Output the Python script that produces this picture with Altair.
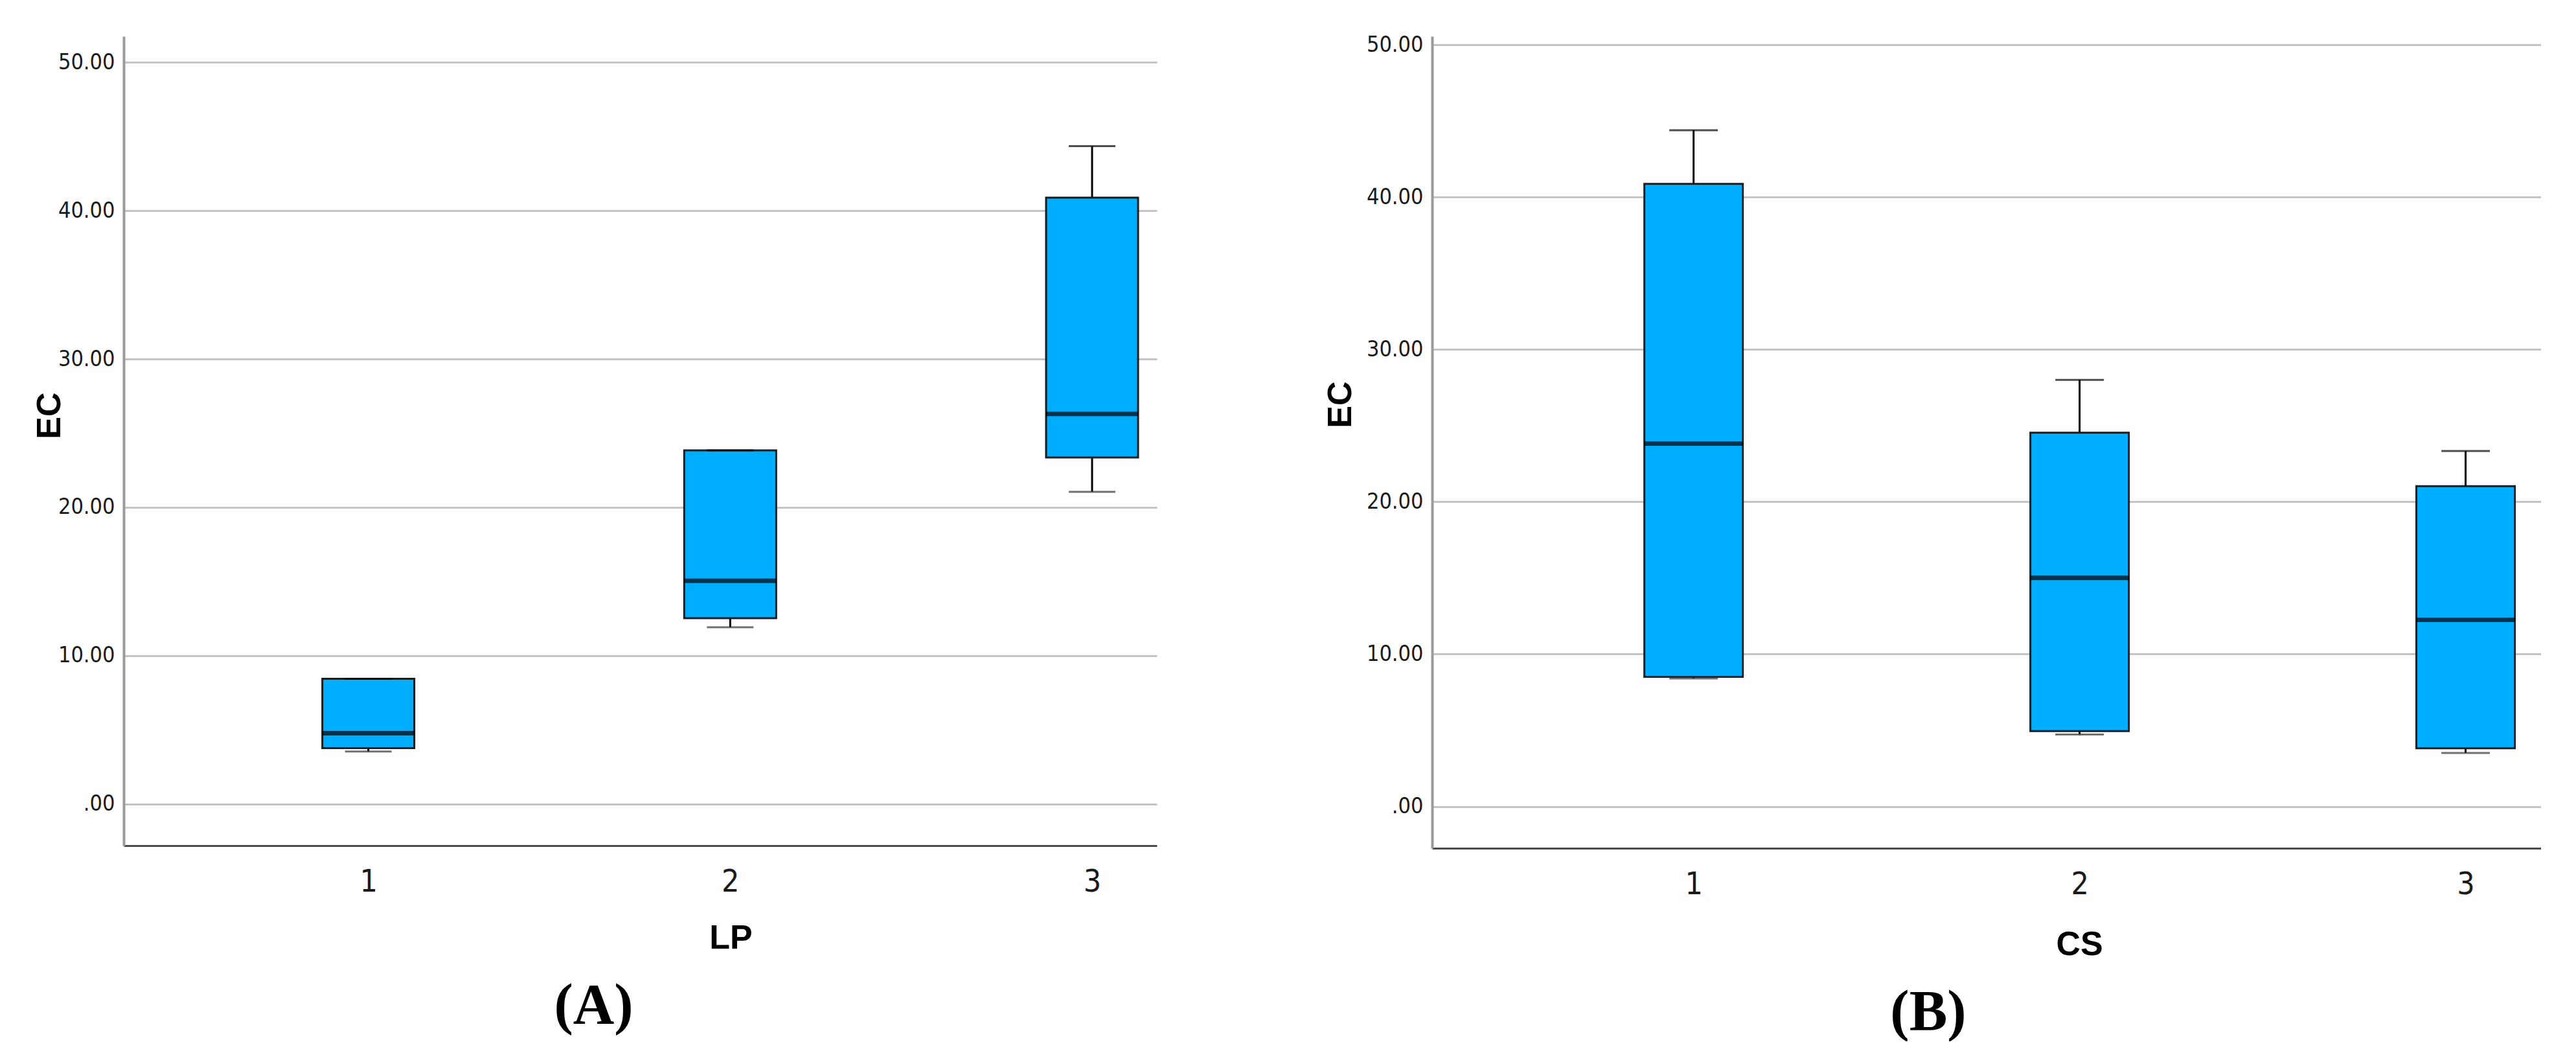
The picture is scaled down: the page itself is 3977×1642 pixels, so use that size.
import altair as alt
import pandas as pd

# ---- data ----
groups = [1, 2, 3]

# Panel A (LP)
a_lower = [3.55, 11.92, 21.05]
a_q1 = [3.78, 12.53, 23.36]
a_median = [4.78, 15.05, 26.30]
a_q3 = [8.45, 23.84, 40.87]
a_upper = [8.45, 23.84, 44.34]

# Panel B (CS)
b_lower = [8.40, 4.72, 3.51]
b_q1 = [8.51, 4.94, 3.82]
b_median = [23.82, 15.00, 12.25]
b_q3 = [40.87, 24.53, 21.02]
b_upper = [44.39, 28.00, 23.33]

y_ticks = [0, 10, 20, 30, 40, 50]
x_ticks = [1, 2, 3]

BOX_COLOR = "#00AEFF"
TICK_FONT = "Liberation Sans Narrow, DejaVu Sans Condensed, Liberation Sans, sans-serif"
TITLE_FONT = "Liberation Sans, Arial, sans-serif"


def frame(lower, q1, median, q3, upper):
    return pd.DataFrame({
        "group": groups, "lower": lower, "q1": q1,
        "median": median, "q3": q3, "upper": upper,
    })


def panel(df, xtitle, label, width, height, xdom, ydom, box_w, cap_w,
          ytitle_x, ytitle_y, xtitle_x, xtitle_y, label_dx):
    x_axis = alt.Axis(
        values=x_ticks, format="d", grid=False, ticks=False,
        domainColor="#4a4a4a", domainWidth=3,
        labelFont=TICK_FONT, labelFontSize=48, labelColor="#1a1a1a",
        labelPadding=32,
        title=xtitle, titleFont=TITLE_FONT, titleFontSize=52,
        titleFontWeight="bold", titleColor="black",
        titleX=xtitle_x, titleY=xtitle_y, titleAlign="center",
        titleBaseline="middle",
    )
    y_axis = alt.Axis(
        values=y_ticks, grid=True, gridColor="#c4c4c4", gridWidth=3,
        ticks=False, domainColor="#9a9a9a", domainWidth=4,
        labelExpr="datum.value == 0 ? '.00' : format(datum.value, '.2f')",
        labelFont=TICK_FONT, labelFontSize=34, labelColor="#1a1a1a",
        labelPadding=14,
        title="EC", titleFont=TITLE_FONT, titleFontSize=52,
        titleFontWeight="bold", titleColor="black",
        titleX=ytitle_x, titleY=ytitle_y, titleAlign="center",
        titleBaseline="middle",
    )
    x = alt.X("group:Q", scale=alt.Scale(domain=xdom, nice=False, zero=False), axis=x_axis)
    xn = alt.X("group:Q")
    yscale = alt.Scale(domain=ydom, nice=False, zero=False)

    base = alt.Chart(df)
    whisk_hi = base.mark_rule(color="black", strokeWidth=3).encode(
        x=x, y=alt.Y("q3:Q", scale=yscale, axis=y_axis), y2="upper:Q")
    whisk_lo = base.mark_rule(color="black", strokeWidth=3).encode(
        x=xn, y=alt.Y("lower:Q"), y2="q1:Q")
    box = base.mark_bar(size=box_w, color=BOX_COLOR, stroke="#1c1c1c",
                        strokeWidth=3).encode(
        x=xn, y=alt.Y("q1:Q"), y2="q3:Q")
    med = base.mark_tick(orient="horizontal", size=box_w, thickness=7,
                         color="black").encode(x=xn, y=alt.Y("median:Q"))
    cap_hi = base.mark_tick(orient="horizontal", size=cap_w, thickness=3,
                            color="black").encode(x=xn, y=alt.Y("upper:Q"))
    cap_lo = base.mark_tick(orient="horizontal", size=cap_w, thickness=3,
                            color="#333333").encode(x=xn, y=alt.Y("lower:Q"))

    return alt.layer(whisk_hi, whisk_lo, box, med, cap_hi, cap_lo).properties(
        width=width, height=height,
        title=alt.TitleParams(
            text=label, orient="bottom", anchor="middle", frame="group",
            font="Liberation Serif, Times New Roman, serif", fontSize=88,
            fontWeight="bold", color="black", offset=36, dx=label_dx,
        ),
    )


pa = panel(frame(a_lower, a_q1, a_median, a_q3, a_upper), "LP", "(A)",
           1595, 1249, [0.333, 3.17], [-2.795, 51.747], 142, 72,
           -115, 585, 937, 142, -72)
pb = panel(frame(b_lower, b_q1, b_median, b_q3, b_upper), "CS", "(B)",
           1712, 1253, [0.331, 3.187], [-2.743, 50.553], 152, 75,
           -142, 568, 999, 148, -90)

chart = alt.hconcat(pa, pb, spacing=257).properties(
    padding={"left": 42, "top": 44, "right": 0, "bottom": 0},
    background="white",
).configure_view(stroke=None).configure_title(baseline="top")

chart.save("out.html", embed_options={"renderer": "svg", "actions": False})
